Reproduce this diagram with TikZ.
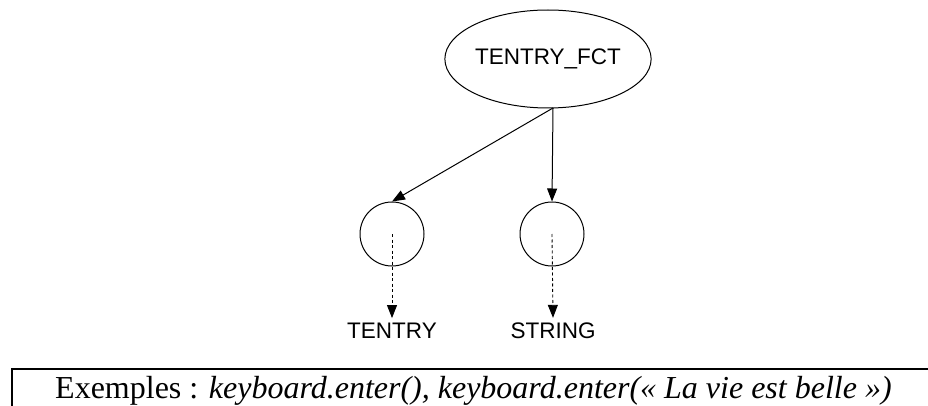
\documentclass[tikz,border=0pt]{standalone}
\usepackage{fontspec}
\setmainfont{Liberation Serif}
\newfontfamily\arialf{Liberation Sans}
\usetikzlibrary{arrows.meta,shapes.geometric}
\begin{document}
\begin{tikzpicture}[x=1pt,y=-1pt,
  tip/.style={-{Triangle[length=13pt,width=10pt]}},
  edge/.style={tip,line width=1pt},
  dedge/.style={tip,line width=0.9pt,dash pattern=on 3pt off 2.5pt},
  lbl/.style={font=\arialf\fontsize{22.5}{24}\selectfont,inner sep=0pt},
  circ/.style={circle,draw,line width=1pt,minimum size=64pt,inner sep=0pt}]
\useasboundingbox (0,0) rectangle (928,406);
\node[ellipse,draw,line width=1pt,minimum width=184pt,minimum height=98pt,inner sep=0pt,
  font=\arialf\fontsize{22.5}{24}\selectfont] (fct) at (548,59) {TENTRY\_FCT};
\coordinate (src) at (553,108);
\node[circ] (c1) at (392,234) {};
\node[circ] (c2) at (552,234) {};
\draw[edge] (src) -- (c1.north);
\draw[edge] (src) -- (c2.north);
\node[lbl] (t1) at (392,331) {TENTRY};
\node[lbl] (t2) at (553,331) {STRING};
\draw[dedge] (c1.center) -- ([yshift=5pt]t1.north);
\draw[dedge] (c2.center) -- ([yshift=5pt]t2.north);
\coordinate (bl) at (12,406);
\coordinate (tl) at (12,369);
\coordinate (tr) at (928,369);
\draw[line width=1.2pt] (bl) -- (tl) -- (tr);
\node[anchor=base west,inner sep=0pt,font=\fontsize{32}{36}\selectfont] (ex) at (55,398)
  {Exemples : \textit{keyboard.enter(), keyboard.enter(« La vie est belle »)}};
\end{tikzpicture}
\end{document}
